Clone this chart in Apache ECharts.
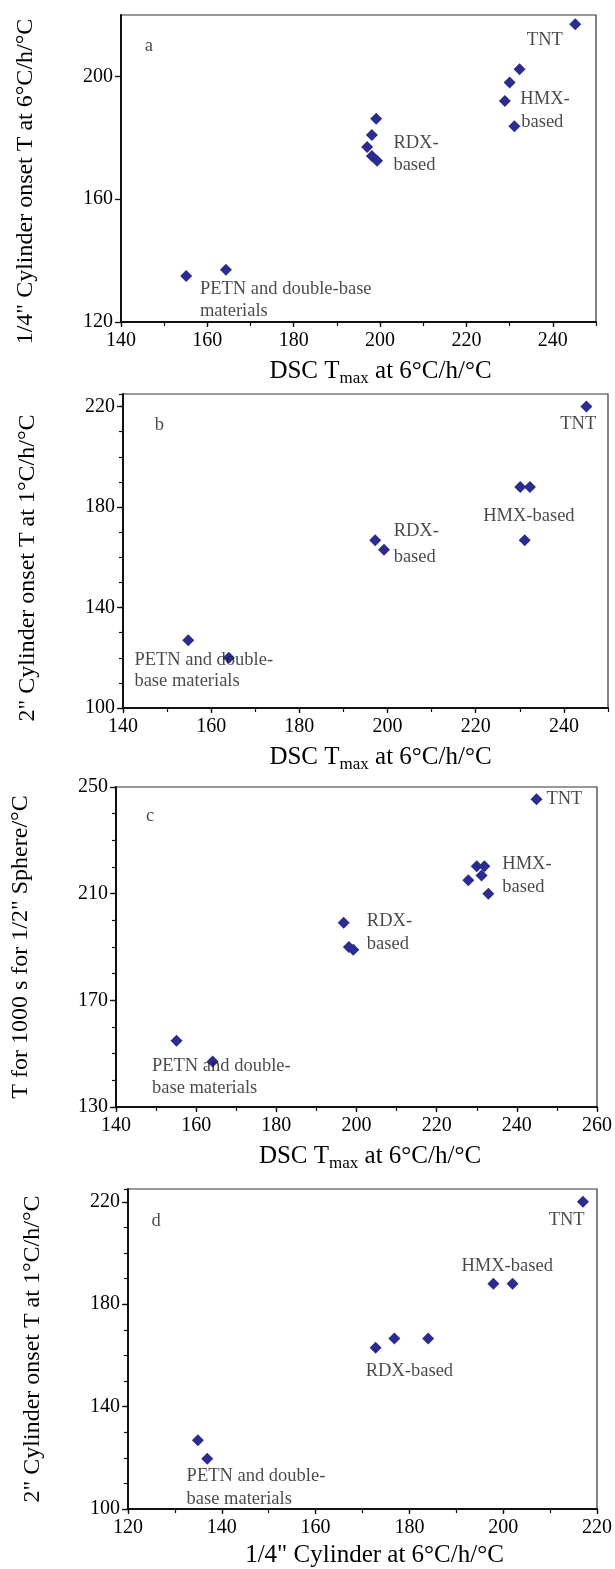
<!DOCTYPE html>
<html>
<head>
<meta charset="utf-8">
<script src="https://cdn.jsdelivr.net/npm/echarts@6/dist/echarts.min.js"></script>
<style>
  html, body { margin: 0; padding: 0; background: #fff; }
  #chart { width: 615px; height: 1569px; }
</style>
</head>
<body>
<div id="chart"></div>
<script>
// Panel a: DSC Tmax vs 1/4" cylinder onset (both at 6 °C/h)
const aDscTmax   = [245.2, 232.3, 230.0, 228.9, 231.1, 199.1, 198.1, 197.0, 198.1, 199.3, 155.1, 164.3];
const aQuarterCyl = [217, 202.3, 198, 192, 183.8, 186.2, 180.9, 177, 174.1, 172.5, 135, 137];

// Panel b: DSC Tmax vs 2" cylinder onset at 1 °C/h
const bDscTmax  = [245.1, 230.1, 232.3, 231.1, 197.2, 199.2, 154.8, 164.0];
const bTwoInCyl = [220, 188, 188, 166.8, 166.8, 163, 127, 120];

// Panel c: DSC Tmax vs temperature for 1000 s, 1/2" sphere
const cDscTmax = [244.9, 230.0, 231.9, 231.2, 227.9, 232.9, 196.8, 198.1, 199.2, 155.1, 164.1];
const cSphere  = [245.4, 220.3, 220.3, 216.8, 215, 210, 199.1, 190, 189, 154.8, 147.1];

// Panel d: 1/4" cylinder vs 2" cylinder
const dQuarterCyl = [217, 197.9, 202, 172.8, 176.8, 184, 134.9, 136.9];
const dTwoInCyl   = [220, 188, 188, 163, 166.6, 166.6, 126.9, 119.6];

// Group annotations: [text, x, y] in data units (left edge, middle of line)
const aNotes = [
  ['a', 145.6, 209.6], ['TNT', 234.1, 211.5],
  ['HMX-', 232.6, 192.5], ['based', 232.8, 184.8],
  ['RDX-', 203.2, 178.1], ['based', 203.2, 170.8],
  ['PETN and double-base', 158.4, 130.7], ['materials', 158.4, 123.3]
];
const bNotes = [
  ['b', 147.3, 212.4], ['TNT', 239.3, 212.7], ['HMX-based', 221.8, 176.1],
  ['RDX-', 201.5, 170.3], ['based', 201.5, 159.9],
  ['PETN and double-', 142.7, 118.9], ['base materials', 142.7, 110.3]
];
const cNotes = [
  ['c', 147.6, 238.75], ['TNT', 247.5, 245.4],
  ['HMX-', 236.5, 220.9], ['based', 236.5, 212.25],
  ['RDX-', 202.7, 199.4], ['based', 202.7, 191],
  ['PETN and double-', 149.1, 145], ['base materials', 149.1, 136.75]
];
const dNotes = [
  ['d', 125.1, 212.2], ['TNT', 209.8, 212.5], ['HMX-based', 191.2, 194.8],
  ['RDX-based', 170.8, 153.6],
  ['PETN and double-', 132.6, 112.6], ['base materials', 132.6, 103.8]
];

const SERIF = '"Liberation Serif", "DejaVu Serif", serif';
const MARK = '#2b2d8e';
const INK = '#111';

const panels = [
  { grid: { left: 121, top: 15, width: 475, height: 307 },
    x: { min: 140, max: 250, step: 20, showMax: false },
    y: { min: 120, max: 220, step: 40, showMax: false, minor: false },
    xName: 'DSC T{sub|max} at 6°C/h/°C', xPad: 44,
    yName: '1/4" Cylinder onset T at 6°C/h/°C', yPad: 26,
    xs: aDscTmax, ys: aQuarterCyl, notes: aNotes },
  { grid: { left: 123, top: 394, width: 485, height: 314 },
    x: { min: 140, max: 250, step: 20, showMax: false },
    y: { min: 100, max: 225, step: 40, showMax: false, minor: true },
    xName: 'DSC T{sub|max} at 6°C/h/°C', xPad: 30,
    yName: '2" Cylinder onset T at 1°C/h/°C', yPad: 34,
    xs: bDscTmax, ys: bTwoInCyl, notes: bNotes },
  { grid: { left: 116, top: 787, width: 481, height: 320 },
    x: { min: 140, max: 260, step: 20, showMax: true },
    y: { min: 130, max: 250, step: 40, showMax: true, minor: true },
    xName: 'DSC T{sub|max} at 6°C/h/°C', xPad: 27,
    yName: 'T for 1000 s for 1/2" Sphere/°C', yPad: 0,
    xs: cDscTmax, ys: cSphere, notes: cNotes },
  { grid: { left: 128, top: 1189, width: 472, height: 323 },
    x: { min: 120, max: 220, step: 20, showMax: true },
    y: { min: 100, max: 225, step: 40, showMax: false, minor: true },
    xName: '1/4" Cylinder at 6°C/h/°C', xPad: 24,
    yName: '2" Cylinder onset T at 1°C/h/°C', yPad: 0,
    xs: dQuarterCyl, ys: dTwoInCyl, notes: dNotes }
];

const grids = [], xAxes = [], yAxes = [], series = [];

panels.forEach((p, i) => {
  grids.push(Object.assign({
    show: true, borderColor: '#333', borderWidth: 1.2, backgroundColor: 'transparent'
  }, p.grid));

  // major x axis with labels and title
  const xMajor = xAxes.length;
  xAxes.push({
    type: 'value', gridIndex: i, position: 'bottom',
    min: p.x.min, max: p.x.max, interval: p.x.step,
    axisLine: { show: true, lineStyle: { color: INK, width: 2 } },
    axisTick: { show: true, inside: false, length: 5, lineStyle: { color: INK, width: 1.3 } },
    axisLabel: { show: true, margin: 9, color: '#000', fontFamily: SERIF, fontSize: 20,
                 showMaxLabel: p.x.showMax, showMinLabel: true },
    splitLine: { show: false },
    name: p.xName, nameLocation: 'middle', nameGap: 34,
    nameTextStyle: {
      color: '#000', fontFamily: SERIF, fontSize: 25, padding: [0, 0, 0, p.xPad],
      rich: { sub: { fontFamily: SERIF, fontSize: 17, color: '#000', padding: [14, 0, 0, 0] } }
    }
  });
  // minor x ticks every 10
  xAxes.push({
    type: 'value', gridIndex: i, position: 'bottom',
    min: p.x.min, max: p.x.max, interval: 10,
    axisLine: { show: false },
    axisTick: { show: true, inside: false, length: 4, lineStyle: { color: INK, width: 1.2 } },
    axisLabel: { show: false }, splitLine: { show: false }
  });

  const yMajor = yAxes.length;
  yAxes.push({
    type: 'value', gridIndex: i, position: 'left',
    min: p.y.min, max: p.y.max, interval: p.y.step,
    axisLine: { show: true, lineStyle: { color: INK, width: 2 } },
    axisTick: { show: true, inside: false, length: 6, lineStyle: { color: INK, width: 1.3 } },
    axisLabel: { show: true, margin: 8, color: '#000', fontFamily: SERIF, fontSize: 20,
                 showMaxLabel: p.y.showMax, showMinLabel: true },
    splitLine: { show: false },
    name: p.yName, nameLocation: 'middle', nameGap: 83,
    nameTextStyle: { color: '#000', fontFamily: SERIF, fontSize: 24, padding: [0, p.yPad, 0, 0] }
  });
  if (p.y.minor) {
    yAxes.push({
      type: 'value', gridIndex: i, position: 'left',
      min: p.y.min, max: p.y.max, interval: 10,
      axisLine: { show: false },
      axisTick: { show: true, inside: false, length: 4, lineStyle: { color: INK, width: 1.2 } },
      axisLabel: { show: false }, splitLine: { show: false }
    });
  }

  series.push({
    type: 'scatter', xAxisIndex: xMajor, yAxisIndex: yMajor,
    symbol: 'diamond', symbolSize: 12,
    itemStyle: { color: MARK, opacity: 1 },
    data: p.xs.map((v, k) => [v, p.ys[k]]),
    silent: true, z: 3
  });

  series.push({
    type: 'scatter', xAxisIndex: xMajor, yAxisIndex: yMajor,
    symbolSize: 1, itemStyle: { color: 'rgba(0,0,0,0)' },
    data: p.notes.map(n => ({ name: n[0], value: [n[1], n[2]] })),
    label: {
      show: true, position: [0, 0], align: 'left', verticalAlign: 'middle',
      formatter: '{b}', color: '#1a1a1a', fontFamily: SERIF, fontSize: 18.5
    },
    silent: true, z: 4
  });
});

const chart = echarts.init(document.getElementById('chart'), null, { renderer: 'canvas' });
chart.setOption({
  animation: false,
  backgroundColor: '#fff',
  grid: grids, xAxis: xAxes, yAxis: yAxes, series: series
});
</script>
</body>
</html>
